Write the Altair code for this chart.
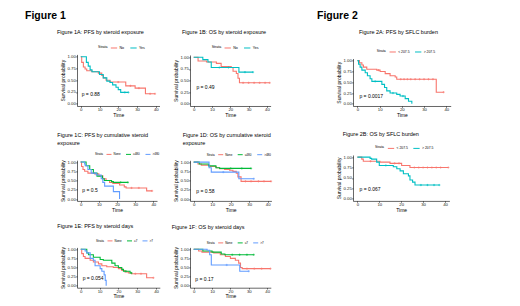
import altair as alt
import pandas as pd

FONT = "Liberation Sans"
RED, TEAL, GREEN, BLUE = "#F8766D", "#00BFC4", "#00BA38", "#619CFF"

X_TICKS = [0, 10, 20, 30, 40]
Y_TICKS = [0.0, 0.25, 0.5, 0.75, 1.0]

# ---------------- Figure 1A: PFS by steroid exposure ----------------
a_labels = ["No", "Yes"]
a_no_t = [0, 0.5, 1.4, 2.3, 3.2, 5.9, 9.4, 11.2, 12.0, 13.5, 15.6, 24.0, 29.0, 34.5, 39.6]
a_no_s = [1.0, 0.88, 0.78, 0.74, 0.70, 0.68, 0.65, 0.60, 0.55, 0.50, 0.46, 0.38, 0.33, 0.21, 0.21]
a_no_c = [20.0, 26.5, 31.0, 37.0, 39.6]
a_yes_t = [0, 3.0, 4.0, 5.0, 6.0, 10.0, 12.0, 13.9, 15.6, 17.0, 18.8, 20.0, 21.3, 25.4]
a_yes_s = [1.0, 0.88, 0.80, 0.72, 0.68, 0.62, 0.55, 0.48, 0.45, 0.40, 0.35, 0.30, 0.24, 0.24]
a_yes_c = [23.5, 25.4]

# ---------------- Figure 1B: OS by steroid exposure ----------------
b_labels = ["No", "Yes"]
b_no_t = [0, 2.4, 7.0, 12.4, 15.0, 20.5, 21.5, 23.3, 24.2, 25.0, 41.5]
b_no_s = [1.0, 0.92, 0.90, 0.87, 0.80, 0.78, 0.70, 0.65, 0.55, 0.45, 0.45]
b_no_c = [27.0, 30.0, 33.0, 36.0, 39.0, 41.5]
b_yes_t = [0, 5.0, 7.8, 9.6, 24.7, 32.4]
b_yes_s = [1.0, 0.95, 0.90, 0.78, 0.68, 0.68]
b_yes_c = [14.0, 19.0, 28.0, 32.4]

# ---------------- Figure 2A: PFS by SFLC burden ----------------
c_labels = ["< 207.5", "> 207.5"]
c_lo_t = [0, 0.9, 2.0, 2.7, 4.2, 8.7, 10.2, 12.5, 14.7, 17.0, 17.7, 35.5, 38.8]
c_lo_s = [1.0, 0.95, 0.90, 0.85, 0.80, 0.78, 0.75, 0.70, 0.65, 0.62, 0.57, 0.27, 0.27]
c_lo_c = [9.5, 19.5, 21.0, 22.5, 24.0, 26.0, 28.0, 30.0, 32.0, 34.0, 38.8]
c_hi_t = [0, 0.5, 1.2, 2.0, 3.5, 4.5, 5.7, 6.5, 11.0, 12.2, 13.2, 14.7, 17.7, 19.2, 21.5, 23.0, 24.5]
c_hi_s = [1.0, 0.92, 0.85, 0.78, 0.72, 0.65, 0.58, 0.52, 0.45, 0.38, 0.30, 0.25, 0.22, 0.18, 0.12, 0.06, 0.0]
c_hi_c = [8.0, 16.0, 20.5]

# ---------------- Figure 2B: OS by SFLC burden ----------------
d_labels = ["< 207.5", "> 207.5"]
d_lo_t = [0, 2.0, 2.7, 10.3, 14.9, 20.2, 24.0, 41.5]
d_lo_s = [1.0, 0.95, 0.90, 0.88, 0.85, 0.80, 0.75, 0.75]
d_lo_c = [6.0, 17.0, 19.0, 26.0, 28.0, 30.0, 32.0, 34.0, 36.0, 38.0, 41.5]
d_hi_t = [0, 5.8, 6.5, 8.8, 10.0, 16.4, 18.0, 19.5, 21.0, 23.3, 24.0, 25.2, 26.3, 37.4]
d_hi_s = [1.0, 0.97, 0.95, 0.88, 0.80, 0.77, 0.72, 0.67, 0.60, 0.55, 0.45, 0.40, 0.33, 0.33]
d_hi_c = [13.0, 29.0, 32.0, 35.0, 37.4]

# ---------------- Figure 1C: PFS by cumulative steroid exposure ----------------
e_labels = ["None", "\u2264480", ">480"]
e_none_t = [0, 0.5, 1.3, 2.2, 4.0, 7.7, 10.0, 12.2, 14.0, 15.9, 17.7, 21.4, 24.0, 25.0, 36.3, 39.3]
e_none_s = [1.0, 0.88, 0.80, 0.75, 0.70, 0.68, 0.63, 0.55, 0.50, 0.45, 0.42, 0.38, 0.33, 0.30, 0.22, 0.22]
e_none_c = [28.0, 32.0, 39.3]
e_low_t = [0, 3.0, 5.0, 7.0, 9.0, 12.0, 13.0, 17.0, 18.0, 26.0]
e_low_s = [1.0, 0.90, 0.80, 0.70, 0.62, 0.55, 0.50, 0.47, 0.45, 0.45]
e_low_c = [22.0, 26.0]
e_high_t = [0, 2.2, 2.5, 4.0, 5.8, 8.6, 11.3, 12.2, 13.2, 18.0, 21.4]
e_high_s = [1.0, 0.95, 0.90, 0.80, 0.70, 0.65, 0.55, 0.45, 0.35, 0.20, 0.0]
e_high_c = []

# ---------------- Figure 1D: OS by cumulative steroid exposure ----------------
f_labels = ["None", "\u2264480", ">480"]
f_none_t = [0, 2.3, 4.1, 8.6, 12.2, 14.0, 16.7, 19.4, 21.2, 23.0, 23.9, 25.6, 41.8]
f_none_s = [1.0, 0.95, 0.92, 0.88, 0.85, 0.82, 0.80, 0.78, 0.75, 0.70, 0.60, 0.48, 0.48]
f_none_c = [28.0, 31.0, 35.0, 38.0, 41.8]
f_low_t = [0, 3.0, 8.0, 12.0, 14.0, 31.0]
f_low_s = [1.0, 0.95, 0.90, 0.85, 0.83, 0.83]
f_low_c = [20.0, 26.0, 31.0]
f_high_t = [0, 8.3, 9.5, 24.4, 32.5]
f_high_s = [1.0, 0.85, 0.73, 0.55, 0.55]
f_high_c = [16.0, 32.5]

# ---------------- Figure 1E: PFS by steroid days ----------------
g_labels = ["None", "\u22647", ">7"]
g_none_t = [0, 0.5, 1.4, 2.3, 5.0, 6.7, 9.4, 11.2, 13.8, 17.3, 20.0, 21.8, 23.5, 25.3, 27.0, 35.0, 38.6]
g_none_s = [1.0, 0.88, 0.80, 0.75, 0.70, 0.65, 0.60, 0.55, 0.52, 0.50, 0.47, 0.42, 0.38, 0.35, 0.33, 0.22, 0.22]
g_none_c = [29.0, 32.0, 38.6]
g_low_t = [0, 3.2, 4.1, 6.7, 10.3, 12.0, 16.5, 18.2, 20.0, 21.8, 22.7, 26.2, 27.0]
g_low_s = [1.0, 0.90, 0.85, 0.78, 0.72, 0.70, 0.62, 0.55, 0.50, 0.45, 0.40, 0.35, 0.35]
g_low_c = [24.0, 27.0]
g_high_t = [0, 2.3, 3.2, 5.0, 6.7, 7.6, 10.3, 11.2, 12.4, 13.0, 13.5]
g_high_s = [1.0, 0.95, 0.90, 0.75, 0.70, 0.55, 0.47, 0.40, 0.30, 0.15, 0.0]
g_high_c = []

# ---------------- Figure 1F: OS by steroid days ----------------
h_labels = ["None", "\u22647", ">7"]
h_none_t = [0, 2.7, 4.5, 10.9, 14.5, 17.3, 20.0, 22.7, 24.5, 25.5, 26.4, 41.8]
h_none_s = [1.0, 0.95, 0.92, 0.90, 0.85, 0.80, 0.75, 0.70, 0.62, 0.50, 0.47, 0.47]
h_none_c = [29.0, 33.0, 37.0, 41.8]
h_low_t = [0, 5.0, 10.0, 15.0, 17.0, 32.7]
h_low_s = [1.0, 0.95, 0.92, 0.87, 0.85, 0.85]
h_low_c = [21.0, 25.0, 29.0, 32.7]
h_high_t = [0, 7.3, 8.7, 9.6, 25.1, 30.0]
h_high_s = [1.0, 0.97, 0.85, 0.57, 0.40, 0.40]
h_high_c = [18.0, 30.0]

# p-values: text, time position, survival position
p_texts = ["p = 0.88", "p = 0.49", "p = 0.0017", "p = 0.067", "p = 0.5", "p = 0.58", "p = 0.054", "p = 0.17"]
p_times = [0.5, 1.5, 0.9, 1.0, 0.9, 1.4, 1.0, 0.9]
p_survs = [0.21, 0.35, 0.19, 0.23, 0.24, 0.21, 0.21, 0.20]


def step_value(ts, ss, c):
    v = ss[0]
    for t, s in zip(ts, ss):
        if t <= c:
            v = s
    return v


def series_df(labels, ts_list, ss_list):
    rows = []
    for lab, ts, ss in zip(labels, ts_list, ss_list):
        for t, s in zip(ts, ss):
            rows.append({"time": t, "surv": s, "strata": lab})
    return pd.DataFrame(rows)


def censor_df(labels, ts_list, ss_list, cs_list):
    rows = []
    for lab, ts, ss, cs in zip(labels, ts_list, ss_list, cs_list):
        for c in cs:
            rows.append({"time": c, "surv": step_value(ts, ss, c), "strata": lab})
    return pd.DataFrame(rows, columns=["time", "surv", "strata"])


PLUS = "M -1 0 L 1 0 M 0 -1 L 0 1"


def km_panel(title_lines, labels, colors, ts_list, ss_list, cs_list, k,
             cell_w, cell_h, plot_w, plot_top, leg_x, leg_y, t_dx, t_off, leg_font, sym):
    df = series_df(labels, ts_list, ss_list)
    cdf = censor_df(labels, ts_list, ss_list, cs_list)
    xs = alt.Scale(domain=[-2, 42], range=[0, plot_w], nice=False, zero=False)
    ys = alt.Scale(domain=[-0.05, 1.05], range=[cell_h, plot_top], nice=False, zero=False)
    xax = alt.Axis(values=X_TICKS, format="d")
    yax = alt.Axis(values=Y_TICKS, format=".2f")
    cscale = alt.Scale(domain=labels, range=colors)
    X = alt.X("time:Q", title="Time", scale=xs, axis=xax)
    Y = alt.Y("surv:Q", title="Survival probability", scale=ys, axis=yax)
    lines = alt.Chart(df).mark_line(interpolate="step-after", strokeWidth=1.1).encode(
        x=X, y=Y,
        color=alt.Color(
            "strata:N", scale=cscale,
            legend=alt.Legend(
                orient="none", legendX=leg_x, legendY=leg_y, direction="horizontal",
                title="Strata", titleOrient="left", labelFontSize=leg_font,
                titleFontSize=leg_font, symbolSize=sym,
            ),
        ),
    )
    cens = alt.Chart(cdf).mark_point(shape=PLUS, size=5, strokeWidth=0.6, filled=False, opacity=1).encode(
        x=X, y=Y, color=alt.Color("strata:N", scale=cscale, legend=None),
    )
    pdf = pd.DataFrame({"time": [p_times[k]], "surv": [p_survs[k]], "label": [p_texts[k]]})
    ptxt = alt.Chart(pdf).mark_text(
        align="left", baseline="middle", fontSize=5, font=FONT, color="black"
    ).encode(x=X, y=Y, text="label:N")
    return alt.layer(lines, cens, ptxt).properties(
        width=cell_w, height=cell_h,
        title=alt.TitleParams(
            text=title_lines, anchor="start", frame="group", dx=t_dx, offset=t_off,
            fontSize=5.5, font=FONT, fontWeight="normal", color="black", lineHeight=8,
        ),
    )


def blank(w, title=None, dx=0, offset=0):
    ch = alt.Chart(pd.DataFrame({"v": [0]})).mark_point(size=0, opacity=0).properties(width=w, height=1)
    if title:
        ch = ch.properties(title=alt.TitleParams(
            text=title, anchor="start", frame="group", dx=dx, offset=offset,
            fontSize=10.5, fontWeight="bold", font=FONT, color="black"))
    return ch


W1, W2, W3 = 93, 143, 98
H1, H2, H3 = 51.6, 54.5, 46.3

p1A = km_panel("Figure 1A: PFS by steroid exposure", a_labels, [RED, TEAL],
               [a_no_t, a_yes_t], [a_no_s, a_yes_s], [a_no_c, a_yes_c], 0,
               W1, H1, 82.5, 0, 21, -10.4, -20, 8.5, 3.6, 40)
p1B = km_panel("Figure 1B: OS by steroid exposure", b_labels, [RED, TEAL],
               [b_no_t, b_yes_t], [b_no_s, b_yes_s], [b_no_c, b_yes_c], 1,
               W2, H1, 80.6, 0.6, 21.7, -10.4, -8, 8.5, 3.6, 40)
p2A = km_panel("Figure 2A: PFS by SFLC burden", c_labels, [RED, TEAL],
               [c_lo_t, c_hi_t], [c_lo_s, c_hi_s], [c_lo_c, c_hi_c], 2,
               W3, H1, 97.7, 4.1, 23.7, -6.4, 6, 12.5, 3.4, 40)
p1C = km_panel(["Figure 1C: PFS by cumulative  steroid", "exposure"], e_labels, [RED, GREEN, BLUE],
               [e_none_t, e_low_t, e_high_t], [e_none_s, e_low_s, e_high_s],
               [e_none_c, e_low_c, e_high_c], 4,
               W1, H2, 80, 13.8, 18, 5, -19.7, 0.3, 3.0, 25)
p1D = km_panel(["Figure 1D: OS by cumulative  steroid", "exposure"], f_labels, [RED, GREEN, BLUE],
               [f_none_t, f_low_t, f_high_t], [f_none_s, f_low_s, f_high_s],
               [f_none_c, f_low_c, f_high_c], 5,
               W2, H2, 81.4, 13.9, 16.7, 5.3, -7.3, 0.3, 3.0, 25)
p2B = km_panel("Figure 2B: OS by SFLC burden", d_labels, [RED, TEAL],
               [d_lo_t, d_hi_t], [d_lo_s, d_hi_s], [d_lo_c, d_hi_c], 3,
               W3, H2, 96.4, 8.6, 22, -2, -10.3, 6.5, 3.4, 40)
p1E = km_panel("Figure 1E: PFS by steroid days", g_labels, [RED, GREEN, BLUE],
               [g_none_t, g_low_t, g_high_t], [g_none_s, g_low_s, g_high_s],
               [g_none_c, g_low_c, g_high_c], 6,
               W1, H3, 82.8, 6, 19, -3.5, -19.7, 8.5, 3.0, 25)
p1F = km_panel("Figure 1F: OS by steroid days", h_labels, [RED, GREEN, BLUE],
               [h_none_t, h_low_t, h_high_t], [h_none_s, h_low_s, h_high_s],
               [h_none_c, h_low_c, h_high_c], 7,
               W2, H3, 80.8, 6, 16.7, -1.5, -18.3, 9.5, 3.0, 25)

hdr1 = blank(W1, "Figure 1", dx=-52, offset=-8.4)
hdr_mid = blank(W2)
hdr2 = blank(W3, "Figure 2", dx=-36, offset=-8.4)

chart = alt.concat(
    hdr1, hdr_mid, hdr2,
    p1A, p1B, p2A,
    p1C, p1D, p2B,
    p1E, p1F,
    columns=3,
    spacing={"row": 40, "column": 20},
    bounds="flush",
    align="each",
).resolve_scale(
    color="independent", x="independent", y="independent"
).resolve_legend(
    color="independent"
).properties(
    padding={"left": 25, "top": 10.4, "right": 5, "bottom": 5},
    background="white",
).configure(font=FONT).configure_view(stroke=None).configure_axis(
    labelFont=FONT, labelFontSize=4.3, labelColor="#222222",
    titleFont=FONT, titleFontSize=5, titleFontWeight="normal", titleColor="black",
    domainColor="black", domainWidth=0.6, tickColor="black", tickWidth=0.6,
    tickSize=1.3, labelPadding=0.4, grid=False,
).configure_axisX(titlePadding=0.3).configure_axisY(titlePadding=1.2).configure_legend(
    symbolType="stroke", symbolStrokeWidth=1, labelOffset=1.5, columnPadding=2.5,
    titlePadding=2, padding=0, titleFontWeight="normal", titleColor="black",
    labelColor="black", labelFont=FONT, titleFont=FONT,
)

chart.save("out.html", embed_options={"renderer": "svg", "actions": False})
